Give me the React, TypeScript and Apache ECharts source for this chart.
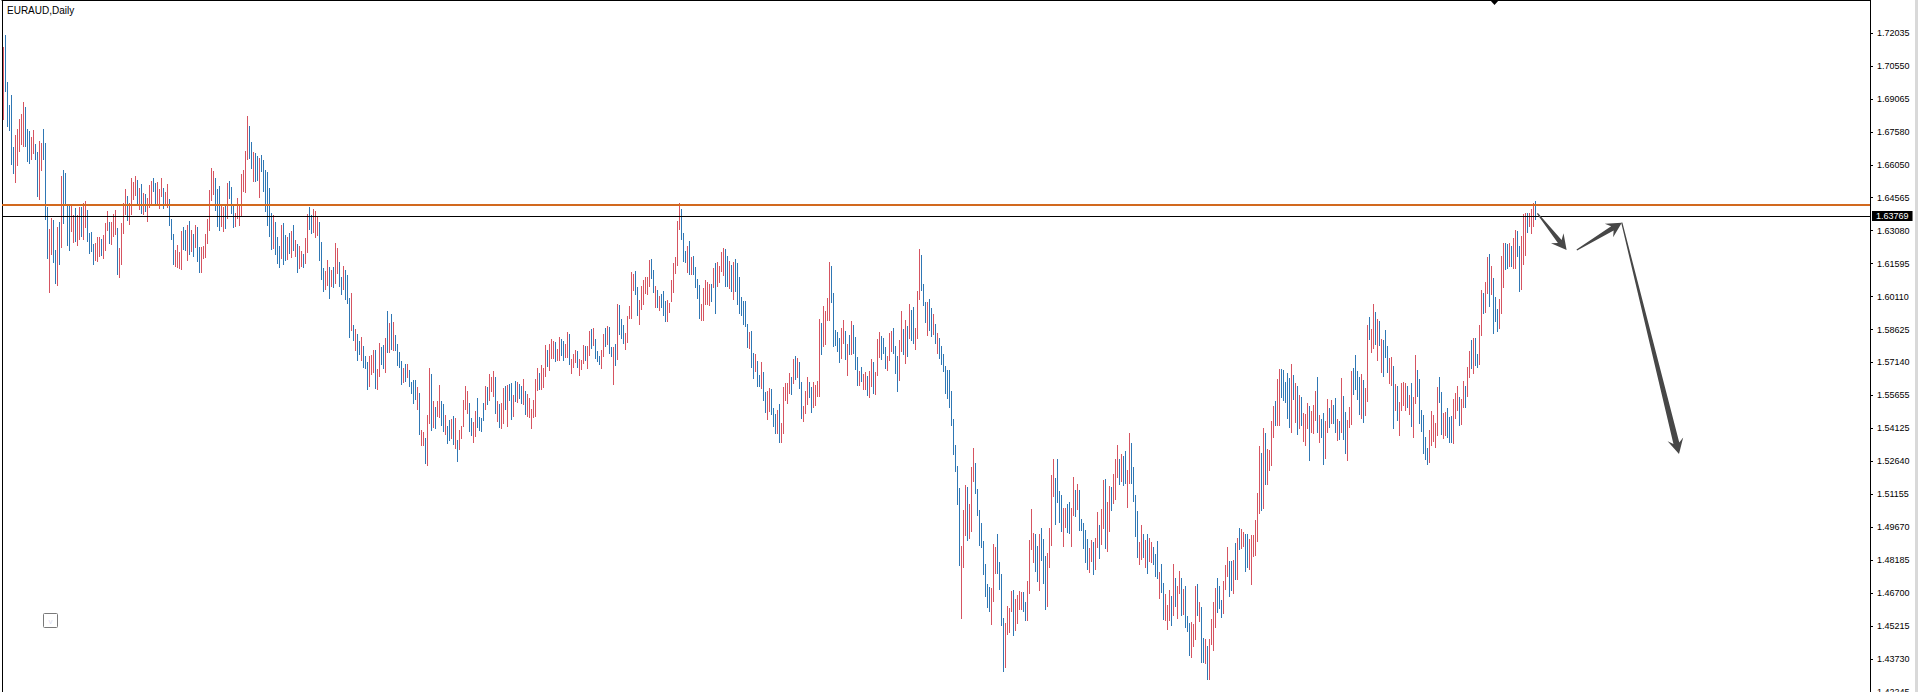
import React, { useEffect, useRef } from 'react';
import * as echarts from 'echarts';

const TITLE = 'EURAUD,Daily';
const FONT = '"Liberation Sans", Arial, sans-serif';

// right-hand price scale labels (top to bottom)
const PRICE_LABELS = [
  '1.72035', '1.70550', '1.69065', '1.67580', '1.66050', '1.64565', '1.63080',
  '1.61595', '1.60110', '1.58625', '1.57140', '1.55655', '1.54125', '1.52640',
  '1.51155', '1.49670', '1.48185', '1.46700', '1.45215', '1.43730', '1.42245',
];
const PRICE_TOP = 1.73525;
const PRICE_BOTTOM = 1.42286;
const SLOT_COUNT = 934; // bar slots across the plot (bars + empty shift area)
const BID = 1.63769; // current price line
const LEVEL = 1.6427; // horizontal resistance line

// daily highs, in 1/10000
const HIGH_PIPS = [
  17142, 17195, 16984, 16878, 16924, 16690, 16743, 16770, 16815, 16838,
  16892, 16869, 16770, 16761, 16734, 16766, 16702, 16666, 16716, 16707,
  16770, 16707, 16418, 16319, 16368, 16359, 16224, 16328, 16350, 16558,
  16585, 16571, 16431, 16427, 16427, 16382, 16413, 16382, 16418, 16418,
  16436, 16445, 16404, 16301, 16305, 16251, 16255, 16282, 16282, 16273,
  16292, 16346, 16400, 16350, 16350, 16386, 16404, 16323, 16233, 16346,
  16436, 16499, 16468, 16436, 16549, 16531, 16558, 16540, 16504, 16522,
  16481, 16477, 16459, 16517, 16535, 16549, 16526, 16531, 16499, 16549,
  16504, 16486, 16522, 16454, 16364, 16296, 16224, 16246, 16215, 16310,
  16328, 16314, 16337, 16355, 16314, 16296, 16337, 16328, 16237, 16237,
  16242, 16296, 16364, 16495, 16594, 16581, 16549, 16499, 16513, 16431,
  16418, 16422, 16526, 16535, 16508, 16422, 16391, 16459, 16422, 16567,
  16585, 16671, 16829, 16784, 16711, 16666, 16662,
  16650, 16640, 16655, 16630, 16585, 16578, 16502, 16389, 16382, 16349,
  16283, 16242, 16337, 16346, 16292, 16283, 16301, 16310, 16337, 16269,
  16251, 16242, 16219, 16206, 16278, 16386, 16418, 16382, 16409, 16400,
  16373, 16350, 16260, 16143, 16129, 16179, 16147, 16134, 16147, 16256,
  16233, 16170, 16102, 16152, 16134, 16111, 16007, 16030, 15885, 15867,
  15845, 15813, 15831, 15791, 15745, 15718, 15745, 15750, 15772, 15772,
  15687, 15804, 15786, 15795, 15827, 15949, 15894, 15935, 15899, 15840,
  15800, 15763, 15723, 15691, 15709, 15709, 15682, 15628, 15637, 15637,
  15605, 15578, 15411, 15402, 15375, 15479, 15691, 15664, 15542, 15515,
  15542, 15614, 15542, 15529, 15479, 15429, 15456, 15461, 15475, 15466,
  15366, 15411, 15429, 15547, 15610, 15587, 15533, 15466, 15447, 15497,
  15556, 15470, 15466, 15533, 15610, 15605, 15664, 15651, 15678, 15651,
  15542, 15529, 15533, 15601, 15610, 15614, 15619, 15624,
  15569, 15633, 15628, 15619, 15610, 15642, 15587, 15574, 15556, 15506,
  15547, 15642, 15691, 15669, 15705, 15691, 15795, 15773, 15800, 15822,
  15813, 15809, 15777, 15831, 15822, 15813, 15800, 15854, 15845, 15732,
  15754, 15773, 15768, 15732, 15727, 15795, 15790, 15790, 15858, 15867,
  15872, 15822, 15768, 15745, 15773, 15845, 15872, 15881, 15876, 15786,
  15786, 15800, 15980, 15976, 15912, 15885, 15849, 15926, 15971, 16125,
  16116, 16129, 16057, 15998, 16061, 16089, 16102, 16102, 16179, 16183,
  16134, 16061, 16043, 16016, 16025, 16039, 15994, 15998, 15985, 16089,
  16165, 16192, 16355, 16436, 16409, 16301, 16219, 16242, 16264, 16192,
  16197, 16147, 16093, 16066, 15980, 16052, 16089, 16079, 16070, 16070,
  16143, 16165, 16170, 16152, 16215, 16233, 16228, 16197, 16174, 16156,
  16170, 16183, 16165, 16102, 16012, 15994, 15994, 15890, 15854, 15858,
  15759, 15754, 15723, 15660, 15718, 15673, 15583, 15587,
  15601, 15596, 15511, 15484, 15502, 15529, 15443, 15605, 15624, 15624,
  15669, 15651, 15732, 15745, 15736, 15718, 15628, 15520, 15587, 15651,
  15628, 15605, 15628, 15614, 15632, 15912, 15894, 15971, 15949, 16007,
  16170, 16152, 16030, 15863, 15854, 15827, 15872, 15908, 15858, 15800,
  15840, 15903, 15885, 15831, 15741, 15678, 15696, 15664, 15673, 15655,
  15678, 15732, 15718, 15673, 15822, 15854, 15836, 15827, 15786, 15745,
  15849, 15858, 15872, 15790, 15745, 15818, 15949, 15867, 15908, 15881,
  15980, 15953, 15967, 15872, 16039, 16228, 16201, 16070, 15989, 15989,
  16003, 15962, 15935, 15890, 15849, 15827, 15790, 15754, 15700, 15682,
  15682, 15587, 15461, 15344, 15249, 15150, 14888, 15050, 15163, 15154,
  15077, 15244, 15330, 15262, 15145, 15050, 14992, 14910, 14806, 14716,
  14703, 14698, 14897, 14883, 14942, 14815, 14761, 14563, 14540, 14617,
  14608, 14685, 14689, 14648, 14667, 14685, 14680, 14680,
  14635, 14730, 14915, 15055, 14946, 14942, 14888, 14942, 14969, 14919,
  14843, 14856, 14969, 15208, 15280, 15195, 15280, 15136, 15118, 15059,
  15059, 15077, 15086, 15059, 15199, 15141, 15168, 15141, 15010, 14992,
  14960, 14919, 14879, 14915, 14906, 14924, 15041, 14983, 15055, 15186,
  15190, 15086, 15159, 15154, 15213, 15280, 15344, 15280, 15303, 15294,
  15317, 15231, 15398, 15353, 15244, 15118, 15046, 14906, 14983, 14942,
  14915, 14942, 14924, 14906, 14883, 14852, 14910, 14770, 14806, 14721,
  14671, 14621, 14689, 14662, 14806, 14743, 14707, 14775, 14743, 14694,
  14707, 14572, 14540, 14545, 14536, 14707, 14716, 14635, 14612, 14472,
  14468, 14436, 14468, 14558, 14635, 14698, 14743, 14707, 14644, 14730,
  14802, 14883, 14820, 14820, 14825, 14901, 14924, 14969, 14964, 14951,
  14942, 14942, 14919, 14937, 14937, 15005, 15127, 15339, 15307, 15420,
  15398, 15326, 15321, 15452, 15520, 15542, 15642, 15687,
  15687, 15682, 15628, 15669, 15646, 15709, 15660, 15623, 15610, 15569,
  15560, 15488, 15483, 15533, 15520, 15497, 15524, 15587, 15651, 15479,
  15461, 15488, 15452, 15551, 15511, 15547, 15524, 15556, 15461, 15452,
  15646, 15565, 15493, 15456, 15515, 15678, 15691, 15750, 15678, 15651,
  15664, 15637, 15601, 15885, 15921, 15867, 15980, 15944, 15912, 15903,
  15822, 15818, 15863, 15790, 15736, 15741, 15700, 15619, 15610, 15538,
  15623, 15628, 15623, 15610, 15569, 15623, 15560, 15750, 15682, 15642,
  15502, 15479, 15380, 15330, 15411, 15497, 15479, 15443, 15605, 15651,
  15583, 15488, 15493, 15511, 15470, 15475, 15551, 15578, 15610, 15560,
  15551, 15633, 15610, 15696, 15768, 15818, 15827, 15827, 15754, 15885,
  16043, 16030, 16079, 16192, 16206, 16152, 16098, 16012, 15958, 16003,
  16197, 16256, 16256, 16251, 16256, 16242, 16278, 16314, 16310, 16242,
  16287, 16386, 16391, 16391, 16391, 16409, 16436, 16445,
];

// daily lows, in 1/10000
const LOW_PIPS = [
  16811, 16939, 16781, 16761, 16608, 16567, 16526, 16605, 16666, 16698,
  16689, 16689, 16621, 16612, 16630, 16657, 16630, 16463, 16450, 16581,
  16630, 16359, 16183, 16030, 16201, 16165, 16070, 16061, 16156, 16233,
  16341, 16422, 16242, 16219, 16305, 16255, 16260, 16242, 16269, 16282,
  16269, 16323, 16260, 16206, 16215, 16156, 16174, 16170, 16192, 16197,
  16183, 16219, 16310, 16251, 16246, 16282, 16292, 16111, 16097, 16156,
  16296, 16382, 16355, 16337, 16382, 16450, 16468, 16427, 16404, 16386,
  16382, 16395, 16350, 16413, 16422, 16486, 16431, 16427, 16409, 16463,
  16409, 16431, 16413, 16332, 16269, 16156, 16147, 16143, 16138, 16134,
  16224, 16219, 16174, 16201, 16215, 16192, 16233, 16170, 16120, 16120,
  16183, 16188, 16251, 16310, 16445, 16472, 16400, 16328, 16310, 16328,
  16305, 16319, 16364, 16454, 16386, 16323, 16328, 16364, 16332, 16377,
  16486, 16481, 16630, 16635, 16590, 16531, 16531,
  16535, 16459, 16576, 16484, 16397, 16332, 16283, 16224, 16228, 16201,
  16159, 16143, 16185, 16156, 16174, 16179, 16206, 16188, 16219, 16192,
  16120, 16138, 16147, 16143, 16161, 16210, 16314, 16296, 16301, 16278,
  16287, 16174, 16088, 16034, 16043, 16061, 16003, 16057, 16052, 16070,
  16116, 16057, 16021, 16043, 15998, 15980, 15827, 15858, 15813, 15768,
  15723, 15750, 15723, 15691, 15687, 15592, 15605, 15660, 15669, 15596,
  15592, 15651, 15705, 15687, 15669, 15759, 15759, 15772, 15768, 15768,
  15700, 15691, 15614, 15624, 15628, 15646, 15605, 15574, 15529, 15547,
  15502, 15389, 15339, 15339, 15258, 15249, 15438, 15407, 15420, 15416,
  15470, 15466, 15429, 15402, 15389, 15348, 15362, 15371, 15344, 15326,
  15267, 15321, 15371, 15425, 15502, 15484, 15402, 15384, 15353, 15380,
  15420, 15407, 15402, 15452, 15502, 15524, 15542, 15583, 15560, 15484,
  15447, 15420, 15416, 15438, 15502, 15425, 15542, 15456,
  15470, 15538, 15533, 15551, 15529, 15524, 15479, 15470, 15466, 15416,
  15466, 15470, 15587, 15592, 15592, 15601, 15651, 15696, 15678, 15732,
  15732, 15718, 15723, 15723, 15745, 15723, 15736, 15736, 15705, 15664,
  15691, 15714, 15691, 15655, 15682, 15709, 15723, 15687, 15745, 15777,
  15790, 15732, 15718, 15705, 15687, 15741, 15786, 15795, 15754, 15741,
  15615, 15700, 15727, 15840, 15822, 15800, 15773, 15804, 15912, 15912,
  16039, 16021, 15926, 15885, 15953, 15976, 16025, 16021, 16057, 16093,
  16030, 15962, 15962, 15949, 15962, 15926, 15899, 15899, 15940, 15989,
  16030, 16116, 16152, 16314, 16269, 16170, 16165, 16120, 16111, 16111,
  16111, 16052, 16003, 15912, 15903, 15903, 15976, 15976, 15971, 15989,
  16052, 15935, 16057, 16075, 16125, 16106, 16057, 16057, 16048, 16034,
  15998, 16034, 15976, 15935, 15926, 15885, 15876, 15782, 15777, 15691,
  15642, 15673, 15605, 15605, 15596, 15542, 15488, 15457,
  15493, 15479, 15425, 15393, 15393, 15353, 15353, 15393, 15542, 15529,
  15574, 15569, 15619, 15637, 15646, 15596, 15461, 15447, 15484, 15524,
  15556, 15488, 15511, 15520, 15560, 15560, 15750, 15786, 15795, 15903,
  15903, 15985, 15786, 15790, 15763, 15714, 15732, 15800, 15727, 15655,
  15750, 15750, 15754, 15682, 15610, 15610, 15628, 15592, 15592, 15565,
  15556, 15605, 15574, 15569, 15655, 15736, 15727, 15754, 15687, 15678,
  15723, 15763, 15754, 15664, 15583, 15632, 15763, 15750, 15709, 15741,
  15822, 15813, 15800, 15773, 15822, 15998, 16039, 15971, 15894, 15836,
  15858, 15831, 15840, 15800, 15754, 15732, 15705, 15673, 15574, 15551,
  15511, 15429, 15298, 15222, 15073, 14797, 14558, 14788, 14933, 14910,
  14919, 14951, 15177, 15122, 15023, 14888, 14879, 14757, 14657, 14608,
  14590, 14531, 14635, 14761, 14761, 14689, 14527, 14319, 14337, 14486,
  14495, 14590, 14481, 14504, 14536, 14599, 14599, 14590,
  14549, 14549, 14671, 14870, 14811, 14770, 14725, 14685, 14820, 14716,
  14599, 14612, 14788, 14888, 15109, 14983, 15082, 14992, 14951, 14883,
  14969, 14946, 14942, 14883, 15023, 15019, 15050, 14955, 14955, 14874,
  14811, 14779, 14766, 14815, 14757, 14779, 14879, 14829, 14892, 14964,
  14874, 14861, 14951, 15046, 15077, 15095, 15195, 15163, 15177, 15159,
  15168, 15059, 15168, 15168, 15086, 14928, 14834, 14802, 14825, 14834,
  14788, 14761, 14815, 14811, 14802, 14748, 14739, 14648, 14676, 14554,
  14549, 14508, 14549, 14527, 14572, 14612, 14558, 14671, 14572, 14576,
  14518, 14499, 14391, 14382, 14432, 14463, 14572, 14545, 14360, 14360,
  14355, 14283, 14283, 14441, 14414, 14518, 14585, 14603, 14563, 14581,
  14689, 14748, 14657, 14685, 14671, 14734, 14734, 14870, 14874, 14883,
  14770, 14788, 14779, 14712, 14838, 14843, 14906, 15032, 15046, 15055,
  15163, 15163, 15226, 15249, 15375, 15429, 15429, 15429,
  15556, 15542, 15533, 15461, 15420, 15398, 15547, 15443, 15389, 15416,
  15429, 15357, 15339, 15416, 15271, 15398, 15393, 15452, 15398, 15353,
  15375, 15253, 15280, 15398, 15420, 15438, 15438, 15398, 15362, 15366,
  15398, 15366, 15303, 15271, 15420, 15434, 15569, 15592, 15547, 15479,
  15461, 15443, 15475, 15538, 15818, 15759, 15777, 15795, 15723, 15790,
  15669, 15651, 15736, 15669, 15619, 15610, 15416, 15497, 15452, 15384,
  15497, 15520, 15497, 15511, 15479, 15425, 15375, 15529, 15560, 15438,
  15402, 15303, 15276, 15253, 15262, 15339, 15357, 15330, 15384, 15533,
  15389, 15371, 15384, 15375, 15353, 15353, 15348, 15461, 15497, 15429,
  15434, 15511, 15511, 15560, 15646, 15687, 15664, 15700, 15691, 15705,
  15836, 15935, 15940, 16025, 15967, 16021, 15845, 15899, 15854, 15867,
  15935, 16052, 16134, 16138, 16147, 16147, 16138, 16138, 16192, 16034,
  16043, 16156, 16197, 16301, 16328, 16296, 16328, 16359,
];

// bar direction: r = red (up) bar, b = blue (down) bar
const DIRECTION = [
  'rbbbbbrrrrrbbbrrbbrrbbbrrbbrbrbbbbrrbrrbrrbbbbrrrbrrrbrrrbrrrrbrrrrbrbrbrrrbbrrrbrrbbbrrrrbbrbrbrbbrrrrrrrbbbrrbrbbbrrrrrrrbbrb',
  'brbbbbbbrbbbrbbrbrbrbrrbrrbbrrrbbbrrbrbrrbbrbbbrbrbbrbbbrrrbrrbbrbrbrbbbbrbrbbbbrbrrbrrbrbrrbbrbbrbrbrrrrrbbrrbbbbrbrrrbrbrrbrbb',
  'rbrbbrbrrrrrrbrrrbrrrbrrbbrrbrrrbrrrbrrbrbbbrrbrbbrbrbbbrrrrrbbrrrrrrbbrbrbbbrrrrrrrbbbrbrbbbbrrrrrbrbrrrrbbrbrbbbbbbbrbbrbbrbbr',
  'rbbbrbrrrrrbrbrbbrrrbbrrrrbrrrrbbbbbrrbrbrbbbrbrrbrrbrrrbbbrrrbbbrrbrbrbbrrrbbbrbbrbrbbbbbbbbbbbrrrbrrrbbbbbbbbrrrbbbbrrrrbrrrrb',
  'brrrrbbrbbbrrrrbbbbrrbbrrbrbbbbbrrbrrbrrbrrbrrrbrbbrrbbbbrrbrbrrbbbrbbrrrbrbrrbrbbbrrrbrbbrbrrrrbbbrrrbbrbrbrrbbrrrrrrbrbrrrrbrr',
  'bbbbbrbrbrbrrrbrrrbrbbrrbrbbrbrbbrrrbbbbrbrrbrrbrbrbbbrrbrbrrrrbrbrrbbbbbbrrrrrbbrrbbbrrrbrrbrrbrbbrrbrrbrbbbrrrbbrbrrbbrrrbrrrb',
].join('');

// hand-drawn arrows: [fromBar, fromPrice, toBar, toPrice]
const ARROWS = [
  [767.2, 1.63896, 781.8, 1.62239],
  [786.9, 1.62239, 809.4, 1.63472],
  [809.4, 1.63472, 838.0, 1.5303],
];

const RED = '#d65461';
const BLUE = '#2f77b4';
const ARROW_COLOR = '#474747';

export default function App() {
  const ref = useRef<HTMLDivElement>(null);

  useEffect(() => {
    if (!ref.current) return;
    const chart = echarts.init(ref.current, undefined, { renderer: 'svg' });

    const n = Math.min(HIGH_PIPS.length, LOW_PIPS.length, DIRECTION.length);
    const bars: number[][] = [];
    for (let i = 0; i < n; i++) {
      bars.push([i, HIGH_PIPS[i] / 1e4, LOW_PIPS[i] / 1e4, DIRECTION[i] === 'r' ? 1 : 0]);
    }

    const labelValues: number[] = PRICE_LABELS.map((_, i) => i + 1);

    const option: any = {
      animation: false,
      backgroundColor: '#ffffff',
      title: {
        text: TITLE,
        left: 7,
        top: 5,
        padding: 0,
        textStyle: { fontFamily: FONT, fontSize: 10, fontWeight: 'normal', color: '#000000' },
      },
      grid: { left: 2, right: 48, top: 0, bottom: 0, containLabel: false, outerBoundsMode: 'none' },
      xAxis: {
        type: 'value',
        min: -0.5,
        max: SLOT_COUNT - 0.5,
        position: 'top',
        axisLine: { show: true, onZero: false, lineStyle: { color: '#000000', width: 1 } },
        axisTick: { show: false },
        axisLabel: { show: false },
        splitLine: { show: false },
      },
      yAxis: [
        {
          type: 'value',
          min: PRICE_BOTTOM,
          max: PRICE_TOP,
          position: 'left',
          axisLine: { show: true, onZero: false, lineStyle: { color: '#000000', width: 1 } },
          axisTick: { show: false },
          axisLabel: { show: false },
          splitLine: { show: false },
        },
        {
          type: 'value',
          min: 0,
          max: PRICE_LABELS.length,
          interval: 1,
          inverse: true,
          position: 'right',
          axisLine: { show: true, onZero: false, lineStyle: { color: '#000000', width: 1 } },
          axisTick: { show: true, length: 3, customValues: labelValues, lineStyle: { color: '#000000' } },
          axisLabel: {
            show: true,
            customValues: labelValues,
            formatter: (v: number) => PRICE_LABELS[Math.round(v) - 1] ?? '',
            fontFamily: FONT,
            fontSize: 9,
            color: '#000000',
            margin: 7,
          },
          splitLine: { show: false },
        },
      ],
      series: [
        {
          type: 'custom',
          name: 'EURAUD',
          xAxisIndex: 0,
          yAxisIndex: 0,
          clip: true,
          encode: { x: 0, y: [1, 2] },
          data: bars,
          renderItem: (_p: any, api: any) => {
            const k = api.value(0);
            const top = api.coord([k, api.value(1)]);
            const bot = api.coord([k, api.value(2)]);
            const y0 = Math.round(top[1]);
            const y1 = Math.round(bot[1]);
            return {
              type: 'rect',
              shape: { x: Math.floor(top[0]), y: y0, width: 1, height: Math.max(1, y1 - y0) },
              style: { fill: api.value(3) === 1 ? RED : BLUE },
            };
          },
          markLine: {
            silent: true,
            symbol: 'none',
            animation: false,
            precision: 5,
            data: [
              {
                yAxis: LEVEL,
                lineStyle: { color: '#d2691e', width: 2, type: 'solid' },
                label: { show: false },
              },
              {
                yAxis: BID,
                lineStyle: { color: '#000000', width: 1, type: 'solid' },
                label: {
                  show: true,
                  position: 'end',
                  distance: 2,
                  formatter: () => BID.toFixed(5),
                  color: '#ffffff',
                  backgroundColor: '#000000',
                  fontFamily: FONT,
                  fontSize: 9,
                  lineHeight: 10,
                  padding: [0, 4, 0, 4],
                },
              },
            ],
          },
          z: 2,
        },
        {
          type: 'custom',
          name: 'arrows',
          xAxisIndex: 0,
          yAxisIndex: 0,
          clip: false,
          encode: { x: [0, 2], y: [1, 3] },
          data: ARROWS,
          renderItem: (_p: any, api: any) => {
            const a = api.coord([api.value(0), api.value(1)]);
            const b = api.coord([api.value(2), api.value(3)]);
            const dx = b[0] - a[0];
            const dy = b[1] - a[1];
            const len = Math.hypot(dx, dy) || 1;
            const ux = dx / len;
            const uy = dy / len;
            const nx = -uy;
            const ny = ux;
            const head = 15;
            const half = 8;
            const notch = 11;
            const base = len > 100 ? 3 : 2.4;
            const tail = 0.6;
            const P = (t: number, w: number) => [a[0] + ux * t + nx * w, a[1] + uy * t + ny * w];
            return {
              type: 'polygon',
              shape: {
                points: [
                  P(0, tail), P(len - notch, base), P(len - head, half), P(len, 0),
                  P(len - head, -half), P(len - notch, -base), P(0, -tail),
                ],
              },
              style: { fill: ARROW_COLOR },
            };
          },
          z: 5,
        },
      ],
      graphic: [
        {
          type: 'polygon',
          shape: { points: [[1490, 0], [1499, 0], [1494.5, 5]] },
          style: { fill: '#000000' },
          silent: true,
        },
        {
          type: 'rect',
          shape: { x: 43.5, y: 613.5, width: 14, height: 14, r: 1 },
          style: { fill: '#ffffff', stroke: '#7a7a7a', lineWidth: 1 },
          silent: true,
        },
        {
          type: 'text',
          x: 50.5,
          y: 621,
          style: { text: 'v', fill: '#dcdcf0', font: `8px ${FONT}`, align: 'center', verticalAlign: 'middle' },
          silent: true,
        },
        {
          type: 'rect',
          shape: { x: 1915, y: 0, width: 3, height: 692 },
          style: { fill: '#d9d9d9' },
          silent: true,
        },
      ],
    };

    chart.setOption(option);
    return () => chart.dispose();
  }, []);

  return (
    <div
      ref={ref}
      style={{ position: 'fixed', left: 0, top: 0, width: 1918, height: 692, background: '#ffffff' }}
    />
  );
}
